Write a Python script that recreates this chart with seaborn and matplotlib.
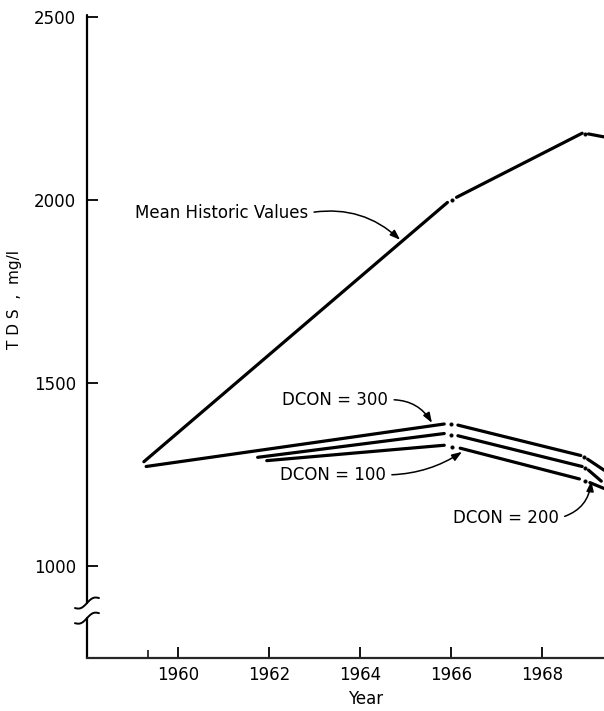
import numpy as np
import pandas as pd
import matplotlib
matplotlib.use("Agg")
import matplotlib.pyplot as plt
import seaborn as sns

# ------------------------------------------
# DATA
# ------------------------------------------
# each series is split into pieces at the dash-dot breaks (1966, ~1969)
mean_years = [[1959.25, 1965.92], [1966.12, 1968.88], [1969.02, 1969.36]]
mean_tds = [[1285, 1993], [2007, 2182], [2180, 2172]]

dcon300_years = [[1959.3, 1965.85], [1966.15, 1968.85], [1969.0, 1969.36]]
dcon300_tds = [[1272, 1388], [1385, 1302], [1292, 1262]]

dcon200_years = [[1961.75, 1965.85], [1966.15, 1968.88], [1969.02, 1969.3]]
dcon200_tds = [[1297, 1362], [1356, 1272], [1262, 1232]]

dcon100_years = [[1961.95, 1965.85], [1966.2, 1968.82], [1969.05, 1969.36]]
dcon100_tds = [[1288, 1330], [1322, 1238], [1228, 1212]]

# dots sitting in the breaks
dot_years = [1966.02, 1968.95, 1966.0, 1968.93, 1966.0, 1968.95, 1966.02, 1968.94]
dot_tds = [2000, 2181, 1387, 1297, 1359, 1267, 1326, 1233]

x_ticks = [1960, 1962, 1964, 1966, 1968]
y_ticks = [1000, 1500, 2000, 2500]

# annotations: label, text position, arrow tip, curvature
notes = [
    ("Mean Historic Values", (1959.05, 1964), (1964.88, 1891), -0.25),
    ("DCON = 300", (1962.29, 1454), (1965.58, 1391), -0.3),
    ("DCON = 100", (1962.24, 1249), (1966.24, 1312), 0.15),
    ("DCON = 200", (1966.04, 1131), (1969.08, 1232), 0.35),
]

# ------------------------------------------
# BUILD LONG TABLE
# ------------------------------------------
rows = []
for name, yrs, vals in [("mean", mean_years, mean_tds),
                        ("300", dcon300_years, dcon300_tds),
                        ("200", dcon200_years, dcon200_tds),
                        ("100", dcon100_years, dcon100_tds)]:
    for i, (ys, vs) in enumerate(zip(yrs, vals)):
        for y, v in zip(ys, vs):
            rows.append({"seg": f"{name}_{i}", "year": y, "tds": v})
df = pd.DataFrame(rows)

# ------------------------------------------
# PLOT
# ------------------------------------------
sns.set_style("ticks")
plt.rcParams['font.family'] = ['DejaVu Sans']
plt.rcParams['text.color'] = "black"
plt.rcParams['axes.labelcolor'] = "black"

fig = plt.figure(figsize=(6.04, 7.11), dpi=100)
ax = fig.add_axes([0.144, 0.0745, 0.856, 0.9045])

sns.lineplot(data=df, x="year", y="tds", units="seg", estimator=None,
             sort=False, color="black", lw=2.3, ax=ax)
sns.scatterplot(x=dot_years, y=dot_tds, color="black", s=7,
                edgecolor=None, ax=ax)

ax.set_xlim(1958.0, 1969.36)
ax.set_ylim(749, 2505)

ax.set_xticks(x_ticks)
ax.set_xticks([1959.34], minor=True)
ax.set_yticks(y_ticks)
ax.tick_params(axis="both", direction="in", length=8, width=1.3,
               labelsize=12, colors="black")
ax.tick_params(axis="x", which="minor", direction="in", length=6, width=1.3)
ax.tick_params(axis="y", pad=8)
ax.tick_params(axis="x", pad=6)

ax.set_xlabel("Year", fontsize=12)
ax.set_ylabel("T D S  ,  mg/l", fontsize=11)
ax.xaxis.set_label_coords(0.538, -0.05)
ax.yaxis.set_label_coords(-0.126, 0.557)

# spines: left axis with a break near the bottom
for s in ["top", "right", "left"]:
    ax.spines[s].set_visible(False)
ax.spines["bottom"].set_linewidth(1.6)
ax.plot([0, 0], [1, 0.0855], color="black", lw=1.6,
        transform=ax.transAxes, clip_on=False)
ax.plot([0, 0], [0.062, 0], color="black", lw=1.6,
        transform=ax.transAxes, clip_on=False)
t = np.linspace(-1, 1, 40)
for base in [0.0855, 0.062]:
    ax.plot(t * 12 / 517, base + (t * 5 + 2.5 * np.sin(t * np.pi)) / 643,
            color="black", lw=1.4, transform=ax.transAxes, clip_on=False)

for label, xy_text, xy_tip, rad in notes:
    ax.annotate(label, xy=xy_tip, xytext=xy_text, fontsize=12,
                va="center", ha="left",
                arrowprops=dict(arrowstyle="-|>,head_length=0.5,head_width=0.18",
                                color="black", lw=1.1, shrinkA=2, shrinkB=0,
                                relpos=(1, 0.5),
                                connectionstyle=f"arc3,rad={rad}"))

plt.savefig("out.png", dpi=100)
